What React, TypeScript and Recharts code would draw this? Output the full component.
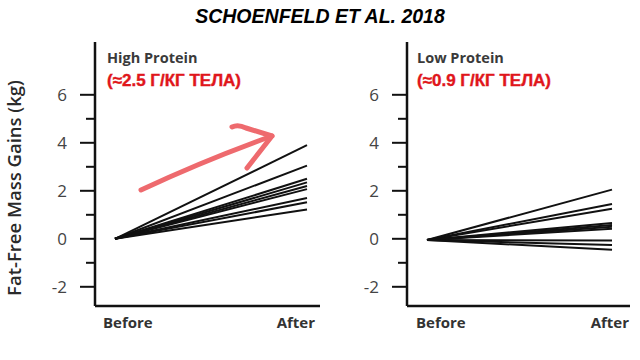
import { LineChart, Line, XAxis, YAxis, Label } from 'recharts';

const phases = ['Before', 'After'];
const yTicks = [-2, -1, 0, 1, 2, 3, 4, 5, 6];

// individual subjects, change in fat-free mass (kg)
const highBefore = [0, 0, 0, 0, 0, 0, 0, 0, 0];
const highAfter = [3.9, 3.05, 2.5, 2.35, 2.2, 2.07, 1.7, 1.52, 1.22];

const lowBefore = [-0.05, -0.05, -0.05, -0.05, -0.05, -0.05, -0.05, -0.05, -0.05, -0.05];
const lowAfter = [2.05, 1.45, 1.25, 0.66, 0.58, 0.5, 0.42, -0.07, -0.26, -0.46];

const buildRows = (before: number[], after: number[]) =>
  phases.map((p, i) => {
    const row: any = { phase: p };
    (i === 0 ? before : after).forEach((v, k) => (row['s' + k] = v));
    return row;
  });

const highData = buildRows(highBefore, highAfter);
const lowData = buildRows(lowBefore, lowAfter);

const YTick = ({ x, y, payload }: any) => {
  const major = payload.value % 2 === 0;
  return (
    <g>
      <line x1={x - (major ? 15 : 9)} x2={x} y1={y} y2={y} stroke="#111" strokeWidth={2} />
      {major && (
        <text x={x - 28} y={y} dy={6} textAnchor="end" fontSize={17} fill="#444" fontFamily="Open Sans">
          {payload.value}
        </text>
      )}
    </g>
  );
};

const XTick = ({ x, y, payload, shiftBefore, shiftAfter }: any) => {
  const before = payload.value === 'Before';
  return (
    <text
      x={before ? x + shiftBefore : x + shiftAfter}
      y={y + 14}
      textAnchor={before ? 'start' : 'end'}
      fontSize={15}
      fontWeight={700}
      fill="#333"
      fontFamily="Open Sans"
    >
      {payload.value}
    </text>
  );
};

function Panel({ data, n, left, width, padL, padR, shiftBefore, shiftAfter, yLabel, title, sub }: any) {
  return (
    <div style={{ position: 'absolute', left, top: 0 }}>
      <LineChart width={width} height={360} data={data} margin={{ top: 42, right: 10, bottom: 24, left: 0 }}>
        <XAxis
          dataKey="phase"
          height={30}
          padding={{ left: padL, right: padR }}
          axisLine={{ stroke: '#111', strokeWidth: 2.5 }}
          tickLine={false}
          interval={0}
          tick={<XTick shiftBefore={shiftBefore} shiftAfter={shiftAfter} />}
        />
        <YAxis
          type="number"
          domain={[-2.8, 8.2]}
          ticks={yTicks}
          width={width === 330 ? 95 : 77}
          axisLine={{ stroke: '#111', strokeWidth: 2.5 }}
          tickLine={false}
          tickSize={0}
          tickMargin={0}
          tick={<YTick />}
          allowDataOverflow
        >
          {yLabel && (
            <Label
              value={yLabel}
              angle={-90}
              position="insideLeft"
              dx={9}
              dy={14}
              style={{ fontSize: 18.5, fontWeight: 600, fill: '#2a2a2a', fontFamily: 'Open Sans', textAnchor: 'middle' }}
            />
          )}
        </YAxis>
        {Array.from({ length: n }, (_, k) => (
          <Line
            key={k}
            dataKey={'s' + k}
            stroke="#111"
            strokeWidth={2}
            dot={false}
            isAnimationActive={false}
          />
        ))}
      </LineChart>
      <div
        style={{
          position: 'absolute',
          left: width === 330 ? 107 : 87,
          top: 47,
          fontFamily: 'Open Sans',
          fontWeight: 700,
          fontSize: 14.5,
          color: '#3a3a3a',
          lineHeight: '22px',
        }}
      >
        <div>{title}</div>
        <div
          style={{
            color: '#e0161b',
            fontFamily: 'Liberation Sans',
            fontSize: 17,
            marginTop: 1,
            WebkitTextStroke: '0.4px #e0161b',
          }}
        >
          {sub}
        </div>
      </div>
    </div>
  );
}

export default function App() {
  return (
    <div style={{ position: 'fixed', left: 0, top: 0, width: 640, height: 360, background: '#fff', overflow: 'hidden' }}>
      <div
        style={{
          position: 'absolute',
          left: 0,
          top: 5,
          width: 640,
          textAlign: 'center',
          fontFamily: 'Liberation Sans',
          fontWeight: 700,
          fontStyle: 'italic',
          fontSize: 19.5,
          color: '#000',
        }}
      >
        SCHOENFELD ET AL. 2018
      </div>
      <Panel
        data={highData}
        n={highAfter.length}
        left={0}
        width={330}
        padL={20}
        padR={13}
        shiftBefore={-12}
        shiftAfter={8}
        yLabel="Fat-Free Mass Gains (kg)"
        title="High Protein"
        sub="(≈2.5 Г/КГ ТЕЛА)"
      />
      <Panel
        data={lowData}
        n={lowAfter.length}
        left={330}
        width={310}
        padL={20}
        padR={18}
        shiftBefore={-11}
        shiftAfter={17}
        title="Low Protein"
        sub="(≈0.9 Г/КГ ТЕЛА)"
      />
      <svg width={640} height={360} style={{ position: 'absolute', left: 0, top: 0, pointerEvents: 'none' }}>
        <g fill="none" stroke="#ee6a6e" strokeWidth={5} strokeLinecap="round" strokeLinejoin="round">
          <path d="M141,190 Q205,160 272,136" />
          <path d="M232,127 Q238,124 246,128 L272,136 L247,168" />
        </g>
      </svg>
    </div>
  );
}
